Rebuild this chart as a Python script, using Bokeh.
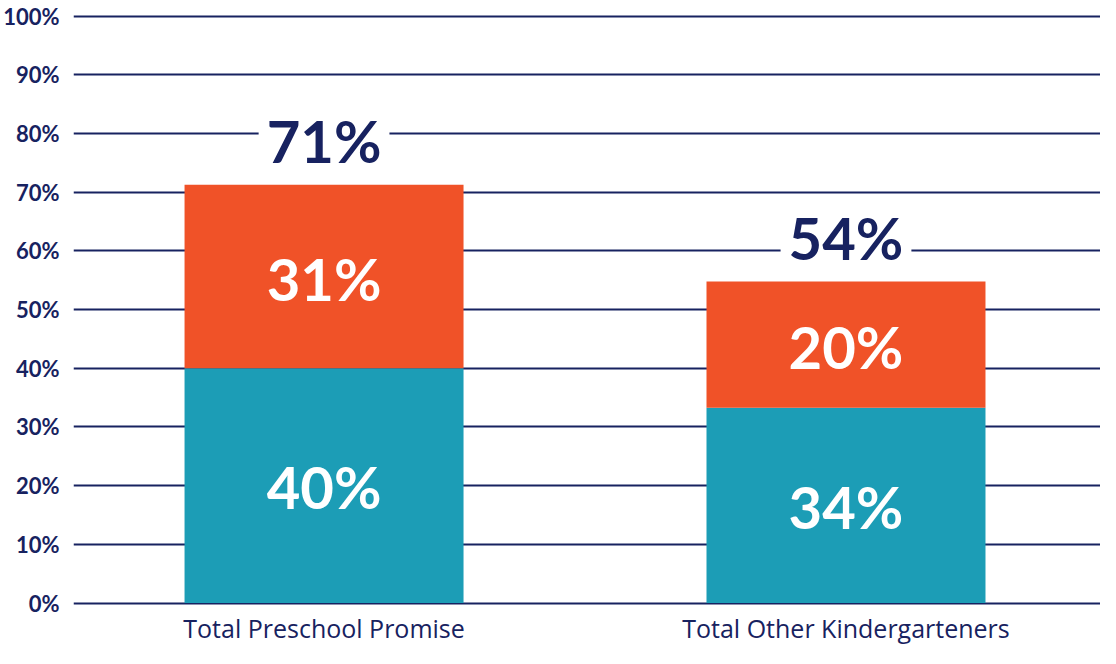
from bokeh.plotting import figure
from bokeh.models import ColumnDataSource, Range1d, FixedTicker, PrintfTickFormatter
from bokeh.core.properties import value
from bokeh.embed import file_html
from bokeh.resources import INLINE

# ---- data ----
categories = ["Total Preschool Promise", "Total Other Kindergarteners"]
teal_values = [40.0, 33.3]
orange_values = [31.3, 21.5]
teal_labels = ["40%", "34%"]
orange_labels = ["31%", "20%"]
total_labels = ["71%", "54%"]
y_ticks = [0, 10, 20, 30, 40, 50, 60, 70, 80, 90, 100]

NAVY = "#172260"
TEAL = "#1C9DB6"
ORANGE = "#F05228"
FONT = "Lato"

xs = list(range(len(categories)))
totals = [t + o for t, o in zip(teal_values, orange_values)]
src = ColumnDataSource(dict(
    x=xs, cat=categories, teal=teal_values, total=totals,
    teal_mid=[t / 2 for t in teal_values],
    orange_mid=[t + o / 2 for t, o in zip(teal_values, orange_values)],
    teal_lab=teal_labels, orange_lab=orange_labels, total_lab=total_labels,
    zero=[0] * len(xs),
))

p = figure(width=1100, height=648, output_backend="svg", toolbar_location=None,
           x_range=Range1d(-0.48, 1.4876), y_range=Range1d(-7.75, 100.3),
           x_axis_location=None, min_border_left=73, min_border_right=0,
           min_border_top=14, min_border_bottom=0)
p.outline_line_color = None
p.background_fill_color = "white"
p.border_fill_color = "white"

ax = p.yaxis[0]
ax.ticker = FixedTicker(ticks=y_ticks)
ax.formatter = PrintfTickFormatter(format="%d%%")
ax.axis_line_color = None
ax.major_tick_line_color = None
ax.minor_tick_line_color = None
ax.major_label_text_font = FONT
ax.major_label_text_font_style = "bold"
ax.major_label_text_font_size = "22px"
ax.major_label_text_color = NAVY
ax.major_label_standoff = 8

p.xgrid.grid_line_color = None
p.ygrid.grid_line_color = NAVY
p.ygrid.grid_line_width = 2

W = 0.5345
p.vbar(x="x", bottom="zero", top="teal", width=W, source=src, fill_color=TEAL, line_color=None)
p.vbar(x="x", bottom="teal", top="total", width=W, source=src, fill_color=ORANGE, line_color=None)

common = dict(text_font=value(FONT), text_font_style="bold", text_align="center",
              text_baseline="middle", text_font_size="58px")
p.text(x="x", y="teal_mid", text="teal_lab", source=src, text_color="white", y_offset=1, **common)
p.text(x="x", y="orange_mid", text="orange_lab", source=src, text_color="white", y_offset=2, **common)
p.text(x="x", y="total", text="total_lab", source=src, text_color=NAVY, y_offset=-44,
       background_fill_color="white", padding=dict(left=8, right=8, top=0, bottom=0), **common)

p.text(x="x", y="zero", text="cat", source=src, text_color=NAVY, text_font=value("Open Sans"),
       text_font_size="25px", text_align="center", text_baseline="middle", y_offset=25)

open("out.html", "w").write(file_html(p, INLINE))
